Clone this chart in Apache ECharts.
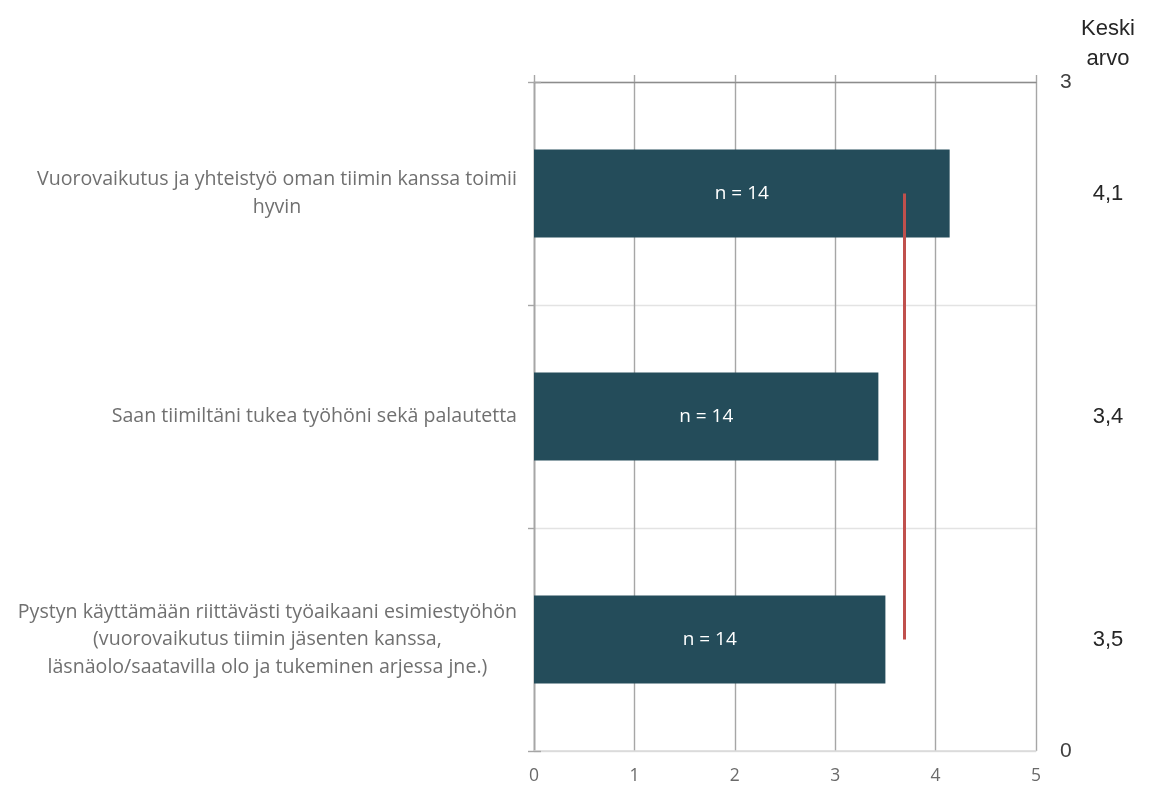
<!DOCTYPE html>
<html>
<head>
<meta charset="utf-8">
<script src="https://cdn.jsdelivr.net/npm/echarts@6/dist/echarts.min.js"></script>
<style>
  html, body { margin: 0; padding: 0; background: #fff; }
  #chart { width: 1155px; height: 787px; }
</style>
</head>
<body>
<div id="chart"></div>
<script>
// Survey statements (top to bottom)
const categories = [
  'Vuorovaikutus ja yhteistyö oman tiimin kanssa toimii\nhyvin',
  'Saan tiimiltäni tukea työhöni sekä palautetta',
  'Pystyn käyttämään riittävästi työaikaani esimiestyöhön\n(vuorovaikutus tiimin jäsenten kanssa,\nläsnäolo/saatavilla olo ja tukeminen arjessa jne.)'
];
// Average score per statement (scale 0–5)
const averages = [4.14, 3.43, 3.5];
// Number of respondents per statement
const counts = [14, 14, 14];
// Bottom axis ticks
const xTicks = [0, 1, 2, 3, 4, 5];

// Overall mean across statements, shown as a vertical reference line
const overallMean = averages.reduce((a, b) => a + b, 0) / averages.length;

const fmt1 = v => v.toFixed(1).replace('.', ',');

const chart = echarts.init(document.getElementById('chart'), null, { renderer: 'canvas' });

chart.setOption({
  animation: false,
  backgroundColor: '#ffffff',
  grid: { left: 534, right: 119, top: 82, bottom: 36, containLabel: false },
  graphic: [{
    type: 'text',
    x: 1108, y: 14,
    style: {
      text: 'Keski\narvo',
      textAlign: 'center',
      font: '22px "Liberation Sans", Arial, sans-serif',
      lineHeight: 30,
      fill: '#262626'
    }
  }],
  xAxis: [{
    type: 'value',
    position: 'bottom',
    min: xTicks[0],
    max: xTicks[xTicks.length - 1],
    interval: 1,
    axisLine: { show: true, lineStyle: { color: '#d9d9d9', width: 1.5 } },
    axisTick: { show: false },
    axisLabel: { color: '#6a6a6a', fontSize: 17.5, fontFamily: '"Open Sans", sans-serif', margin: 16 },
    splitLine: { show: true, lineStyle: { color: '#a6a6a6', width: 1.4 } }
  }, {
    type: 'value',
    position: 'top',
    min: xTicks[0],
    max: xTicks[xTicks.length - 1],
    interval: 1,
    axisLine: { show: true, lineStyle: { color: '#8c8c8c', width: 1.4 } },
    axisTick: { show: true, length: 7, lineStyle: { color: '#a6a6a6', width: 1.4 } },
    axisLabel: { show: false },
    splitLine: { show: false }
  }],
  yAxis: [{
    type: 'category',
    inverse: true,
    data: categories,
    axisLine: { show: true, lineStyle: { color: '#a6a6a6', width: 1.4 } },
    axisTick: { show: true, length: 6, lineStyle: { color: '#a6a6a6', width: 1.4 } },
    splitLine: { show: true, lineStyle: { color: '#e3e3e3', width: 1.4 } },
    axisLabel: {
      margin: 17,
      align: 'right',
      formatter: v => v.split('\n').map(l => '{c|' + l + '}').join('\n'),
      rich: {
        c: {
          align: 'center',
          color: '#707070',
          fontSize: 19.6,
          fontFamily: '"Open Sans", sans-serif',
          lineHeight: 27.5
        }
      }
    }
  }, {
    type: 'value',
    position: 'right',
    min: 0,
    max: 3,
    interval: 3,
    axisLine: { show: true, lineStyle: { color: '#a6a6a6', width: 1.4 } },
    axisTick: { show: true, length: 7, lineStyle: { color: '#a6a6a6', width: 1.4 } },
    axisLabel: { color: '#404040', fontSize: 21, fontFamily: '"Liberation Sans", Arial, sans-serif', margin: 24 },
    splitLine: { show: false }
  }, {
    type: 'category',
    position: 'right',
    offset: 72,
    inverse: true,
    data: categories,
    axisLine: { show: false },
    axisTick: { show: false },
    splitLine: { show: false },
    axisLabel: {
      align: 'center',
      margin: 0,
      color: '#262626',
      fontSize: 22,
      fontFamily: '"Liberation Sans", Arial, sans-serif',
      formatter: (v, i) => fmt1(averages[i])
    }
  }],
  series: [{
    type: 'bar',
    xAxisIndex: 0,
    yAxisIndex: 0,
    data: averages,
    barWidth: '39.5%',
    itemStyle: { color: '#244c5a' },
    label: {
      show: true,
      position: 'inside',
      color: '#ffffff',
      fontSize: 19,
      fontFamily: '"Open Sans", sans-serif',
      formatter: p => 'n = ' + counts[p.dataIndex]
    },
    markLine: {
      silent: true,
      symbol: ['none', 'none'],
      label: { show: false },
      lineStyle: { color: '#c0504d', width: 3, type: 'solid' },
      data: [[
        { coord: [overallMean, 0] },
        { coord: [overallMean, categories.length - 1] }
      ]]
    }
  }]
});
</script>
</body>
</html>
